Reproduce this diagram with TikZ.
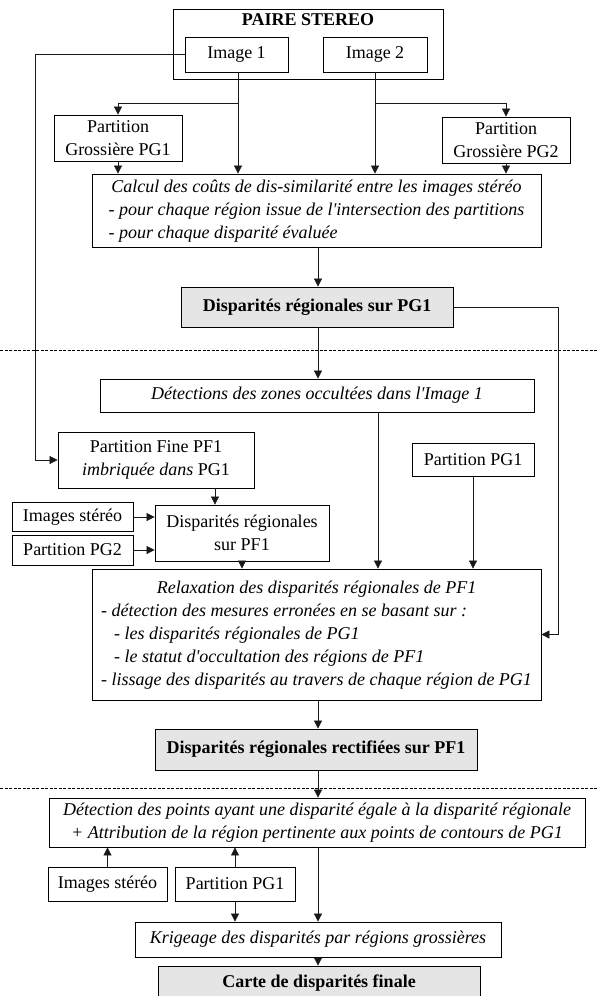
\documentclass[tikz,border=0pt]{standalone}
\usepackage{fontspec}
\setmainfont{Liberation Serif}
\usetikzlibrary{arrows,arrows.meta,shapes}
\newcommand{\q}{\textquotesingle}
\tikzset{box/.style={draw, line width=.8pt, inner sep=2pt, align=center,
    font=\fontsize{18}{23}\selectfont},
  grey/.style={box, fill=black!10, font=\fontsize{18}{23}\selectfont\bfseries},
  ital/.style={box, font=\fontsize{18}{23}\selectfont\itshape},
  arr/.style={draw=black!90, line width=.7pt, -{Triangle[length=8pt,width=8pt]}},
  sep/.style={line width=.6pt, dash pattern=on 3pt off 1.5pt},}

\begin{document}
\begin{tikzpicture}[x=1pt,y=-1pt]
  \useasboundingbox (0,0) rectangle (598,996);
  % columns of the connectors
  \coordinate (xl) at (35,0);
  \coordinate (xa) at (238,0);
  \coordinate (xb) at (375,0);
  \coordinate (xm) at (318,0);
  \coordinate (xd) at (378,0);
  \coordinate (xp) at (215,0);
  \coordinate (xr) at (558,0);
  \coordinate (yb) at (0,103);
  % stereo pair
  \node[box, minimum width=270pt, minimum height=70pt,
    label={[font=\fontsize{18}{23}\selectfont\bfseries, anchor=north, inner sep=5pt]north:PAIRE STEREO}] (0) at (308,44) {};
  \node[box, minimum width=103pt, minimum height=35pt] (1) at (236.5,54.5) {Image 1};
  \node[box, minimum width=104pt, minimum height=35pt] (2) at (375,54.5) {Image 2};
  \node[box, minimum width=128pt, minimum height=46pt] (3) at (118,138) {Partition\\Grossière PG1};
  \node[box, minimum width=128pt, minimum height=46pt] (4) at (506,140) {Partition\\Grossière PG2};
  \node[ital, minimum width=449pt, minimum height=69pt] (5) at (316.5,210.5) {\begin{tabular}{@{}l@{}}
    \multicolumn{1}{@{}c@{}}{Calcul des coûts de dis-similarité entre les images stéréo}\\
    - pour chaque région issue de l\q intersection des partitions\\
    - pour chaque disparité évaluée\end{tabular}};
  \node[grey, minimum width=272pt, minimum height=40pt] (6) at (317,307) {Disparités régionales sur PG1};
  % second stage
  \node[ital, minimum width=434pt, minimum height=33pt] (7) at (317,395.5) {Détections des zones occultées dans l\q Image 1};
  \node[box, minimum width=196pt, minimum height=56pt] (8) at (156,460) {Partition Fine PF1\\\textit{imbriquée dans} PG1};
  \node[box, minimum width=122pt, minimum height=33pt] (9) at (473,459.5) {Partition PG1};
  \node[box, minimum width=121pt, minimum height=29pt] (10) at (72.5,517) {Images stéréo};
  \node[box, minimum width=121pt, minimum height=30pt] (11) at (72.5,550) {Partition PG2};
  \node[box, minimum width=174pt, minimum height=56pt] (12) at (242,533) {Disparités régionales\\sur PF1};
  \node[ital, minimum width=449pt, minimum height=131pt] (13) at (316.5,634.5) {\begin{tabular}{@{}l@{}}
    \multicolumn{1}{@{}c@{}}{Relaxation des disparités régionales de PF1}\\
    - détection des mesures erronées en se basant sur :\\
    \hspace{13pt}- les disparités régionales de PG1\\
    \hspace{13pt}- le statut d\q occultation des régions de PF1\\
    - lissage des disparités au travers de chaque région de PG1\end{tabular}};
  \node[grey, minimum width=322pt, minimum height=41pt] (14) at (316,749.5) {Disparités régionales rectifiées sur PF1};
  % third stage
  \node[ital, minimum width=536pt, minimum height=49pt] (15) at (317,822.5) {Détection des points ayant une disparité égale à la disparité régionale\\+ Attribution de la région pertinente aux points de contours de PG1};
  \node[box, minimum width=119pt, minimum height=34pt] (16) at (107.5,884) {Images stéréo};
  \node[box, minimum width=120pt, minimum height=34pt] (17) at (235,884) {Partition PG1};
  \node[ital, minimum width=366pt, minimum height=35pt] (18) at (318,939.5) {Krigeage des disparités par régions grossières};
  \node[grey, minimum width=322pt, minimum height=34pt] (19) at (319,983) {Carte de disparités finale};
  % separators
  \draw[sep] (0,350) -- (598,350);
  \draw[sep] (0,788) -- (598,788);
  % connectors
  \draw[arr] (1.west) -- (1.west -| xl) |- (8.west);
  \draw[arr] (1.south -| xa) -- (5.north -| xa);
  \draw[arr] (2.south -| xb) -- (5.north -| xb);
  \draw[arr] (xa |- yb) -| (3.north);
  \draw[arr] (xb |- yb) -| (4.north);
  \draw[arr] (3.south) -- (3.south |- 5.north);
  \draw[arr] (4.south) -- (4.south |- 5.north);
  \draw[arr] (5.south -| xm) -- (6.north -| xm);
  \draw[arr] (6.south -| xm) -- (7.north -| xm);
  \draw[arr] (6.east) -| (xr |- 13.east) -- (13.east);
  \draw[arr] (7.south -| xd) -- (13.north -| xd);
  \draw[arr] (9.south) -- (9.south |- 13.north);
  \draw[arr] (8.south -| xp) -- (12.north -| xp);
  \draw[arr] (10.east) -- (10.east -| 12.west);
  \draw[arr] (11.east) -- (11.east -| 12.west);
  \draw[arr] (12.south) -- (12.south |- 13.north);
  \draw[arr] (13.south -| xm) -- (14.north -| xm);
  \draw[arr] (14.south -| xm) -- (15.north -| xm);
  \draw[arr] (16.north) -- (16.north |- 15.south);
  \draw[arr] (17.north) -- (17.north |- 15.south);
  \draw[arr] (17.south) -- (17.south |- 18.north);
  \draw[arr] (15.south -| xm) -- (18.north -| xm);
  \draw[arr] (18.south -| xm) -- (19.north -| xm);
\end{tikzpicture}
\end{document}
